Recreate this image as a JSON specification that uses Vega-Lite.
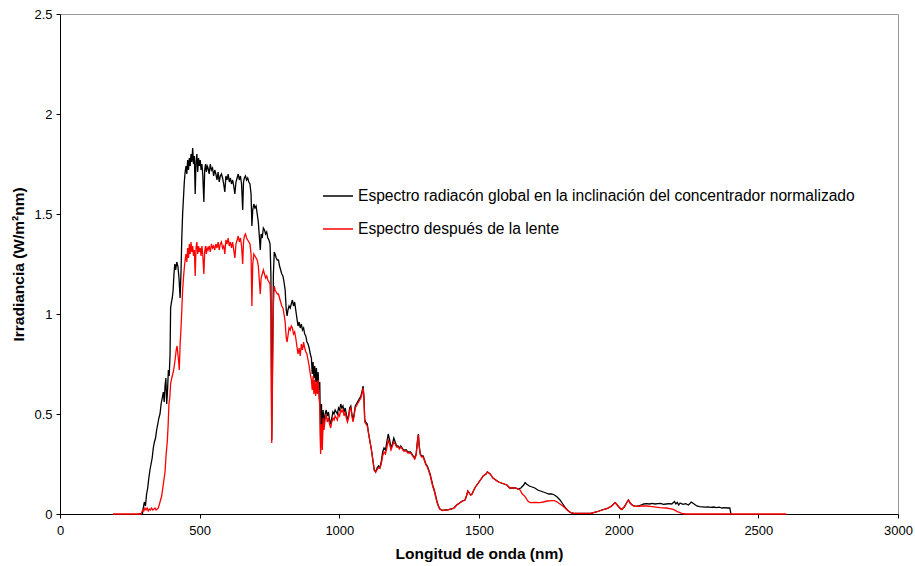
{
  "$schema": "https://vega.github.io/schema/vega-lite/v6.json",
  "width": 838,
  "height": 500,
  "autosize": {"type": "none"},
  "padding": {"left": 60, "top": 14, "right": 17, "bottom": 52},
  "background": "white",
  "datasets": {
    "black": [
      {"x":280,"y":0},{"x":295,"y":0},{"x":298,"y":0.03},{"x":302,"y":0.06},{"x":306,"y":0.04},{"x":310,"y":0.10},{"x":314,"y":0.13},{"x":318,"y":0.18},{"x":322,"y":0.22},{"x":326,"y":0.25},{"x":330,"y":0.28},{"x":334,"y":0.33},{"x":338,"y":0.36},{"x":342,"y":0.38},{"x":346,"y":0.42},{"x":350,"y":0.45},{"x":354,"y":0.48},{"x":358,"y":0.50},{"x":362,"y":0.55},{"x":366,"y":0.58},{"x":370,"y":0.61},{"x":373,"y":0.56},{"x":376,"y":0.64},{"x":379,"y":0.68},{"x":382,"y":0.55},{"x":385,"y":0.62},{"x":388,"y":0.72},{"x":391,"y":0.69},{"x":394,"y":0.80},{"x":396,"y":1.03},{"x":399,"y":1.06},{"x":402,"y":1.08},{"x":405,"y":1.12},{"x":408,"y":1.20},{"x":411,"y":1.25},{"x":414,"y":1.22},{"x":418,"y":1.26},{"x":422,"y":1.24},{"x":426,"y":1.18},{"x":430,"y":1.08},{"x":433,"y":1.20},{"x":436,"y":1.38},{"x":439,"y":1.50},{"x":442,"y":1.58},{"x":445,"y":1.66},{"x":448,"y":1.71},{"x":451,"y":1.74},{"x":454,"y":1.70},{"x":457,"y":1.77},{"x":460,"y":1.72},{"x":463,"y":1.78},{"x":466,"y":1.74},{"x":469,"y":1.80},{"x":472,"y":1.76},{"x":475,"y":1.83},{"x":478,"y":1.75},{"x":481,"y":1.79},{"x":484,"y":1.60},{"x":487,"y":1.76},{"x":490,"y":1.80},{"x":493,"y":1.71},{"x":496,"y":1.78},{"x":499,"y":1.74},{"x":502,"y":1.77},{"x":505,"y":1.72},{"x":508,"y":1.75},{"x":511,"y":1.70},{"x":515,"y":1.56},{"x":518,"y":1.72},{"x":521,"y":1.75},{"x":524,"y":1.71},{"x":527,"y":1.74},{"x":530,"y":1.73},{"x":534,"y":1.70},{"x":538,"y":1.75},{"x":542,"y":1.72},{"x":546,"y":1.73},{"x":550,"y":1.69},{"x":554,"y":1.72},{"x":558,"y":1.70},{"x":562,"y":1.67},{"x":566,"y":1.71},{"x":570,"y":1.66},{"x":574,"y":1.69},{"x":578,"y":1.70},{"x":582,"y":1.68},{"x":586,"y":1.65},{"x":590,"y":1.61},{"x":594,"y":1.69},{"x":598,"y":1.67},{"x":602,"y":1.70},{"x":606,"y":1.66},{"x":610,"y":1.68},{"x":614,"y":1.65},{"x":618,"y":1.67},{"x":622,"y":1.64},{"x":626,"y":1.60},{"x":630,"y":1.66},{"x":634,"y":1.68},{"x":638,"y":1.70},{"x":642,"y":1.67},{"x":646,"y":1.69},{"x":650,"y":1.65},{"x":654,"y":1.52},{"x":657,"y":1.66},{"x":660,"y":1.68},{"x":664,"y":1.69},{"x":668,"y":1.67},{"x":672,"y":1.68},{"x":676,"y":1.66},{"x":680,"y":1.65},{"x":684,"y":1.60},{"x":687,"y":1.44},{"x":690,"y":1.52},{"x":694,"y":1.55},{"x":698,"y":1.53},{"x":702,"y":1.54},{"x":706,"y":1.50},{"x":710,"y":1.46},{"x":714,"y":1.38},{"x":717,"y":1.32},{"x":720,"y":1.40},{"x":724,"y":1.38},{"x":728,"y":1.43},{"x":732,"y":1.42},{"x":736,"y":1.40},{"x":740,"y":1.41},{"x":744,"y":1.38},{"x":748,"y":1.37},{"x":752,"y":1.35},{"x":755,"y":1.20},{"x":758,"y":0.37},{"x":761,"y":0.80},{"x":764,"y":1.20},{"x":767,"y":1.31},{"x":770,"y":1.30},{"x":774,"y":1.28},{"x":778,"y":1.27},{"x":782,"y":1.27},{"x":786,"y":1.24},{"x":790,"y":1.22},{"x":794,"y":1.20},{"x":798,"y":1.19},{"x":802,"y":1.16},{"x":806,"y":1.12},{"x":810,"y":1.02},{"x":813,"y":0.99},{"x":816,"y":1.02},{"x":820,"y":1.04},{"x":824,"y":1.03},{"x":828,"y":1.05},{"x":832,"y":1.07},{"x":836,"y":1.04},{"x":840,"y":1.06},{"x":844,"y":1.02},{"x":848,"y":0.98},{"x":852,"y":0.94},{"x":856,"y":0.96},{"x":860,"y":0.93},{"x":864,"y":0.95},{"x":868,"y":0.92},{"x":872,"y":0.93},{"x":876,"y":0.90},{"x":880,"y":0.89},{"x":884,"y":0.86},{"x":888,"y":0.85},{"x":892,"y":0.83},{"x":896,"y":0.80},{"x":900,"y":0.78},{"x":903,"y":0.70},{"x":906,"y":0.76},{"x":909,"y":0.68},{"x":912,"y":0.74},{"x":915,"y":0.66},{"x":918,"y":0.73},{"x":921,"y":0.64},{"x":924,"y":0.71},{"x":927,"y":0.62},{"x":930,"y":0.66},{"x":933,"y":0.34},{"x":936,"y":0.55},{"x":939,"y":0.38},{"x":942,"y":0.52},{"x":945,"y":0.45},{"x":949,"y":0.50},{"x":953,"y":0.52},{"x":957,"y":0.49},{"x":961,"y":0.51},{"x":965,"y":0.47},{"x":969,"y":0.45},{"x":973,"y":0.48},{"x":977,"y":0.51},{"x":981,"y":0.50},{"x":985,"y":0.52},{"x":989,"y":0.51},{"x":993,"y":0.50},{"x":997,"y":0.53},{"x":1001,"y":0.52},{"x":1005,"y":0.55},{"x":1009,"y":0.53},{"x":1013,"y":0.54},{"x":1017,"y":0.51},{"x":1021,"y":0.53},{"x":1025,"y":0.50},{"x":1029,"y":0.47},{"x":1033,"y":0.49},{"x":1037,"y":0.53},{"x":1041,"y":0.54},{"x":1045,"y":0.50},{"x":1049,"y":0.47},{"x":1053,"y":0.50},{"x":1057,"y":0.54},{"x":1061,"y":0.55},{"x":1065,"y":0.56},{"x":1069,"y":0.57},{"x":1073,"y":0.58},{"x":1077,"y":0.59},{"x":1081,"y":0.61},{"x":1085,"y":0.64},{"x":1088,"y":0.59},{"x":1091,"y":0.47},{"x":1095,"y":0.46},{"x":1100,"y":0.45},{"x":1105,"y":0.40},{"x":1110,"y":0.36},{"x":1115,"y":0.32},{"x":1120,"y":0.27},{"x":1125,"y":0.22},{"x":1130,"y":0.21},{"x":1135,"y":0.23},{"x":1140,"y":0.24},{"x":1145,"y":0.23},{"x":1150,"y":0.26},{"x":1155,"y":0.31},{"x":1160,"y":0.33},{"x":1165,"y":0.32},{"x":1170,"y":0.36},{"x":1175,"y":0.40},{"x":1180,"y":0.37},{"x":1185,"y":0.33},{"x":1190,"y":0.35},{"x":1195,"y":0.38},{"x":1200,"y":0.36},{"x":1205,"y":0.34},{"x":1210,"y":0.34},{"x":1215,"y":0.33},{"x":1220,"y":0.34},{"x":1225,"y":0.33},{"x":1230,"y":0.32},{"x":1235,"y":0.32},{"x":1240,"y":0.32},{"x":1245,"y":0.31},{"x":1250,"y":0.31},{"x":1255,"y":0.31},{"x":1260,"y":0.30},{"x":1265,"y":0.29},{"x":1270,"y":0.28},{"x":1275,"y":0.30},{"x":1280,"y":0.37},{"x":1283,"y":0.40},{"x":1286,"y":0.34},{"x":1290,"y":0.30},{"x":1295,"y":0.29},{"x":1300,"y":0.29},{"x":1305,"y":0.27},{"x":1310,"y":0.25},{"x":1315,"y":0.24},{"x":1320,"y":0.22},{"x":1325,"y":0.20},{"x":1330,"y":0.17},{"x":1335,"y":0.14},{"x":1340,"y":0.12},{"x":1345,"y":0.09},{"x":1350,"y":0.06},{"x":1355,"y":0.04},{"x":1360,"y":0.025},{"x":1370,"y":0.018},{"x":1380,"y":0.02},{"x":1390,"y":0.022},{"x":1400,"y":0.025},{"x":1410,"y":0.03},{"x":1420,"y":0.045},{"x":1430,"y":0.055},{"x":1440,"y":0.065},{"x":1450,"y":0.07},{"x":1455,"y":0.09},{"x":1460,"y":0.115},{"x":1465,"y":0.105},{"x":1470,"y":0.095},{"x":1475,"y":0.10},{"x":1480,"y":0.115},{"x":1485,"y":0.13},{"x":1490,"y":0.14},{"x":1495,"y":0.15},{"x":1500,"y":0.16},{"x":1505,"y":0.17},{"x":1510,"y":0.18},{"x":1515,"y":0.19},{"x":1520,"y":0.195},{"x":1525,"y":0.20},{"x":1530,"y":0.21},{"x":1535,"y":0.205},{"x":1540,"y":0.20},{"x":1545,"y":0.19},{"x":1550,"y":0.18},{"x":1555,"y":0.175},{"x":1560,"y":0.17},{"x":1565,"y":0.165},{"x":1570,"y":0.16},{"x":1580,"y":0.155},{"x":1590,"y":0.15},{"x":1600,"y":0.145},{"x":1610,"y":0.13},{"x":1620,"y":0.13},{"x":1630,"y":0.13},{"x":1640,"y":0.125},{"x":1650,"y":0.13},{"x":1660,"y":0.145},{"x":1665,"y":0.157},{"x":1670,"y":0.15},{"x":1680,"y":0.14},{"x":1690,"y":0.135},{"x":1700,"y":0.13},{"x":1710,"y":0.12},{"x":1720,"y":0.115},{"x":1730,"y":0.11},{"x":1740,"y":0.105},{"x":1750,"y":0.10},{"x":1760,"y":0.10},{"x":1770,"y":0.095},{"x":1780,"y":0.085},{"x":1790,"y":0.07},{"x":1800,"y":0.05},{"x":1810,"y":0.03},{"x":1820,"y":0.015},{"x":1830,"y":0.005},{"x":1840,"y":0.003},{"x":1900,"y":0.003},{"x":1920,"y":0.01},{"x":1940,"y":0.02},{"x":1960,"y":0.028},{"x":1975,"y":0.04},{"x":1987,"y":0.057},{"x":1995,"y":0.045},{"x":2005,"y":0.028},{"x":2011,"y":0.023},{"x":2020,"y":0.035},{"x":2028,"y":0.055},{"x":2035,"y":0.07},{"x":2041,"y":0.055},{"x":2050,"y":0.043},{"x":2060,"y":0.038},{"x":2070,"y":0.04},{"x":2080,"y":0.045},{"x":2090,"y":0.05},{"x":2100,"y":0.052},{"x":2110,"y":0.05},{"x":2120,"y":0.053},{"x":2130,"y":0.05},{"x":2140,"y":0.052},{"x":2150,"y":0.053},{"x":2160,"y":0.048},{"x":2170,"y":0.05},{"x":2180,"y":0.052},{"x":2190,"y":0.05},{"x":2200,"y":0.062},{"x":2205,"y":0.05},{"x":2210,"y":0.058},{"x":2215,"y":0.045},{"x":2220,"y":0.055},{"x":2230,"y":0.048},{"x":2240,"y":0.052},{"x":2250,"y":0.045},{"x":2260,"y":0.06},{"x":2270,"y":0.05},{"x":2280,"y":0.04},{"x":2290,"y":0.037},{"x":2300,"y":0.036},{"x":2310,"y":0.034},{"x":2320,"y":0.036},{"x":2330,"y":0.033},{"x":2340,"y":0.035},{"x":2350,"y":0.032},{"x":2360,"y":0.034},{"x":2370,"y":0.03},{"x":2380,"y":0.032},{"x":2390,"y":0.03},{"x":2398,"y":0.03},{"x":2402,"y":0}
    ],
    "red": [
      {"x":190,"y":0},{"x":290,"y":0},{"x":293,"y":0.01},{"x":297,"y":0.02},{"x":300,"y":0.015},{"x":304,"y":0.03},{"x":308,"y":0.02},{"x":312,"y":0.03},{"x":316,"y":0.015},{"x":320,"y":0.025},{"x":324,"y":0.02},{"x":328,"y":0.03},{"x":332,"y":0.02},{"x":336,"y":0.025},{"x":340,"y":0.03},{"x":344,"y":0.02},{"x":348,"y":0.025},{"x":352,"y":0.03},{"x":356,"y":0.05},{"x":360,"y":0.07},{"x":364,"y":0.09},{"x":368,"y":0.13},{"x":372,"y":0.17},{"x":376,"y":0.21},{"x":380,"y":0.30},{"x":384,"y":0.36},{"x":387,"y":0.44},{"x":390,"y":0.55},{"x":393,"y":0.58},{"x":396,"y":0.65},{"x":400,"y":0.68},{"x":404,"y":0.70},{"x":408,"y":0.73},{"x":412,"y":0.77},{"x":416,"y":0.82},{"x":419,"y":0.84},{"x":422,"y":0.80},{"x":425,"y":0.76},{"x":427,"y":0.72},{"x":430,"y":0.85},{"x":433,"y":0.92},{"x":436,"y":1.02},{"x":439,"y":1.12},{"x":442,"y":1.18},{"x":445,"y":1.23},{"x":448,"y":1.27},{"x":451,"y":1.30},{"x":454,"y":1.26},{"x":457,"y":1.33},{"x":460,"y":1.28},{"x":463,"y":1.35},{"x":466,"y":1.30},{"x":469,"y":1.36},{"x":472,"y":1.31},{"x":475,"y":1.34},{"x":478,"y":1.29},{"x":481,"y":1.32},{"x":484,"y":1.19},{"x":487,"y":1.33},{"x":490,"y":1.36},{"x":493,"y":1.30},{"x":496,"y":1.34},{"x":499,"y":1.31},{"x":502,"y":1.33},{"x":505,"y":1.29},{"x":508,"y":1.34},{"x":511,"y":1.30},{"x":515,"y":1.20},{"x":518,"y":1.31},{"x":521,"y":1.34},{"x":524,"y":1.30},{"x":527,"y":1.33},{"x":530,"y":1.32},{"x":534,"y":1.34},{"x":538,"y":1.31},{"x":542,"y":1.35},{"x":546,"y":1.33},{"x":550,"y":1.34},{"x":554,"y":1.32},{"x":558,"y":1.35},{"x":562,"y":1.33},{"x":566,"y":1.36},{"x":570,"y":1.32},{"x":574,"y":1.35},{"x":578,"y":1.36},{"x":582,"y":1.33},{"x":586,"y":1.34},{"x":590,"y":1.30},{"x":594,"y":1.37},{"x":598,"y":1.35},{"x":602,"y":1.38},{"x":606,"y":1.34},{"x":610,"y":1.36},{"x":614,"y":1.33},{"x":618,"y":1.36},{"x":622,"y":1.32},{"x":626,"y":1.28},{"x":630,"y":1.35},{"x":634,"y":1.37},{"x":638,"y":1.39},{"x":642,"y":1.36},{"x":646,"y":1.38},{"x":650,"y":1.34},{"x":654,"y":1.25},{"x":657,"y":1.36},{"x":660,"y":1.39},{"x":664,"y":1.40},{"x":668,"y":1.38},{"x":672,"y":1.37},{"x":676,"y":1.36},{"x":680,"y":1.35},{"x":684,"y":1.30},{"x":687,"y":1.04},{"x":690,"y":1.25},{"x":694,"y":1.30},{"x":698,"y":1.29},{"x":702,"y":1.28},{"x":706,"y":1.27},{"x":710,"y":1.24},{"x":714,"y":1.16},{"x":717,"y":1.10},{"x":720,"y":1.18},{"x":724,"y":1.20},{"x":728,"y":1.22},{"x":732,"y":1.20},{"x":736,"y":1.18},{"x":740,"y":1.19},{"x":744,"y":1.17},{"x":748,"y":1.16},{"x":752,"y":1.15},{"x":755,"y":1.02},{"x":758,"y":0.355},{"x":761,"y":0.70},{"x":764,"y":1.05},{"x":767,"y":1.14},{"x":770,"y":1.12},{"x":774,"y":1.11},{"x":778,"y":1.10},{"x":782,"y":1.10},{"x":786,"y":1.08},{"x":790,"y":1.06},{"x":794,"y":1.04},{"x":798,"y":1.03},{"x":802,"y":1.00},{"x":806,"y":0.96},{"x":810,"y":0.88},{"x":813,"y":0.86},{"x":816,"y":0.89},{"x":820,"y":0.93},{"x":824,"y":0.92},{"x":828,"y":0.94},{"x":832,"y":0.93},{"x":836,"y":0.90},{"x":840,"y":0.91},{"x":844,"y":0.88},{"x":848,"y":0.84},{"x":852,"y":0.80},{"x":856,"y":0.83},{"x":860,"y":0.79},{"x":864,"y":0.85},{"x":868,"y":0.82},{"x":872,"y":0.86},{"x":876,"y":0.83},{"x":880,"y":0.81},{"x":884,"y":0.80},{"x":888,"y":0.77},{"x":892,"y":0.74},{"x":896,"y":0.70},{"x":900,"y":0.67},{"x":903,"y":0.62},{"x":906,"y":0.69},{"x":909,"y":0.60},{"x":912,"y":0.67},{"x":915,"y":0.59},{"x":918,"y":0.66},{"x":921,"y":0.60},{"x":924,"y":0.67},{"x":927,"y":0.58},{"x":930,"y":0.55},{"x":933,"y":0.30},{"x":936,"y":0.45},{"x":939,"y":0.32},{"x":942,"y":0.48},{"x":945,"y":0.42},{"x":949,"y":0.47},{"x":953,"y":0.50},{"x":957,"y":0.46},{"x":961,"y":0.48},{"x":965,"y":0.45},{"x":969,"y":0.43},{"x":973,"y":0.46},{"x":977,"y":0.48},{"x":981,"y":0.47},{"x":985,"y":0.49},{"x":989,"y":0.48},{"x":993,"y":0.47},{"x":997,"y":0.50},{"x":1001,"y":0.49},{"x":1005,"y":0.52},{"x":1009,"y":0.51},{"x":1013,"y":0.52},{"x":1017,"y":0.49},{"x":1021,"y":0.51},{"x":1025,"y":0.48},{"x":1029,"y":0.46},{"x":1033,"y":0.48},{"x":1037,"y":0.52},{"x":1041,"y":0.53},{"x":1045,"y":0.49},{"x":1049,"y":0.46},{"x":1053,"y":0.49},{"x":1057,"y":0.53},{"x":1061,"y":0.54},{"x":1065,"y":0.55},{"x":1069,"y":0.56},{"x":1073,"y":0.57},{"x":1077,"y":0.58},{"x":1081,"y":0.60},{"x":1085,"y":0.63},{"x":1088,"y":0.58},{"x":1091,"y":0.46},{"x":1095,"y":0.45},{"x":1100,"y":0.44},{"x":1105,"y":0.40},{"x":1110,"y":0.36},{"x":1115,"y":0.32},{"x":1120,"y":0.27},{"x":1125,"y":0.22},{"x":1130,"y":0.21},{"x":1135,"y":0.22},{"x":1140,"y":0.23},{"x":1145,"y":0.23},{"x":1150,"y":0.25},{"x":1155,"y":0.29},{"x":1160,"y":0.31},{"x":1165,"y":0.30},{"x":1170,"y":0.33},{"x":1175,"y":0.37},{"x":1180,"y":0.35},{"x":1185,"y":0.32},{"x":1190,"y":0.34},{"x":1195,"y":0.36},{"x":1200,"y":0.35},{"x":1205,"y":0.335},{"x":1210,"y":0.335},{"x":1215,"y":0.325},{"x":1220,"y":0.335},{"x":1225,"y":0.325},{"x":1230,"y":0.315},{"x":1235,"y":0.315},{"x":1240,"y":0.315},{"x":1245,"y":0.305},{"x":1250,"y":0.305},{"x":1255,"y":0.305},{"x":1260,"y":0.295},{"x":1265,"y":0.285},{"x":1270,"y":0.275},{"x":1275,"y":0.295},{"x":1280,"y":0.365},{"x":1283,"y":0.395},{"x":1286,"y":0.335},{"x":1290,"y":0.295},{"x":1295,"y":0.285},{"x":1300,"y":0.285},{"x":1305,"y":0.265},{"x":1310,"y":0.245},{"x":1315,"y":0.235},{"x":1320,"y":0.215},{"x":1325,"y":0.195},{"x":1330,"y":0.165},{"x":1335,"y":0.135},{"x":1340,"y":0.115},{"x":1345,"y":0.085},{"x":1350,"y":0.058},{"x":1355,"y":0.038},{"x":1360,"y":0.024},{"x":1370,"y":0.017},{"x":1380,"y":0.019},{"x":1390,"y":0.021},{"x":1400,"y":0.024},{"x":1410,"y":0.029},{"x":1420,"y":0.044},{"x":1430,"y":0.054},{"x":1440,"y":0.064},{"x":1450,"y":0.07},{"x":1455,"y":0.09},{"x":1460,"y":0.115},{"x":1465,"y":0.105},{"x":1470,"y":0.095},{"x":1475,"y":0.10},{"x":1480,"y":0.115},{"x":1485,"y":0.13},{"x":1490,"y":0.14},{"x":1495,"y":0.15},{"x":1500,"y":0.16},{"x":1505,"y":0.17},{"x":1510,"y":0.18},{"x":1515,"y":0.19},{"x":1520,"y":0.195},{"x":1525,"y":0.20},{"x":1530,"y":0.21},{"x":1535,"y":0.205},{"x":1540,"y":0.20},{"x":1545,"y":0.19},{"x":1550,"y":0.18},{"x":1555,"y":0.175},{"x":1560,"y":0.17},{"x":1565,"y":0.165},{"x":1570,"y":0.16},{"x":1580,"y":0.155},{"x":1590,"y":0.15},{"x":1600,"y":0.145},{"x":1610,"y":0.13},{"x":1620,"y":0.13},{"x":1630,"y":0.13},{"x":1640,"y":0.125},{"x":1647,"y":0.12},{"x":1655,"y":0.10},{"x":1665,"y":0.087},{"x":1675,"y":0.065},{"x":1683,"y":0.057},{"x":1700,"y":0.058},{"x":1718,"y":0.057},{"x":1730,"y":0.06},{"x":1745,"y":0.065},{"x":1760,"y":0.067},{"x":1770,"y":0.067},{"x":1780,"y":0.06},{"x":1790,"y":0.05},{"x":1800,"y":0.04},{"x":1810,"y":0.028},{"x":1820,"y":0.015},{"x":1830,"y":0.005},{"x":1840,"y":0.003},{"x":1900,"y":0.003},{"x":1920,"y":0.01},{"x":1940,"y":0.02},{"x":1960,"y":0.028},{"x":1975,"y":0.04},{"x":1987,"y":0.057},{"x":1995,"y":0.045},{"x":2005,"y":0.028},{"x":2011,"y":0.023},{"x":2020,"y":0.035},{"x":2028,"y":0.055},{"x":2035,"y":0.07},{"x":2041,"y":0.055},{"x":2050,"y":0.043},{"x":2060,"y":0.038},{"x":2070,"y":0.038},{"x":2080,"y":0.04},{"x":2090,"y":0.04},{"x":2100,"y":0.04},{"x":2120,"y":0.037},{"x":2148,"y":0.032},{"x":2170,"y":0.03},{"x":2196,"y":0.023},{"x":2210,"y":0.012},{"x":2226,"y":0.003},{"x":2240,"y":0},{"x":2600,"y":0}
    ]
  },
  "layer": [
    {
      "data": {"name": "black"},
      "mark": {"type": "line", "strokeWidth": 1.3, "interpolate": "linear"},
      "encoding": {
        "x": {"field": "x", "type": "quantitative"},
        "y": {"field": "y", "type": "quantitative"},
        "color": {"datum": "Espectro radiacón global en la inclinación del concentrador normalizado", "type": "nominal"}
      }
    },
    {
      "data": {"name": "red"},
      "mark": {"type": "line", "strokeWidth": 1.3, "interpolate": "linear"},
      "encoding": {
        "x": {"field": "x", "type": "quantitative"},
        "y": {"field": "y", "type": "quantitative"},
        "color": {"datum": "Espectro después de la lente", "type": "nominal"}
      }
    }
  ],
  "resolve": {"scale": {"x": "shared", "y": "shared", "color": "shared"}},
  "encoding": {
    "x": {
      "field": "x", "type": "quantitative",
      "scale": {"domain": [0, 3000], "nice": false, "zero": false},
      "axis": {
        "title": "Longitud de onda (nm)",
        "values": [0, 500, 1000, 1500, 2000, 2500, 3000],
        "labelExpr": "toString(datum.value)",
        "labelFlush": false,
        "titleX": 419, "titleY": 39, "titleBaseline": "middle", "titleAlign": "center"
      }
    },
    "y": {
      "field": "y", "type": "quantitative",
      "scale": {"domain": [0, 2.5], "nice": false, "zero": false},
      "axis": {
        "title": "Irradiancia (W/m²nm)",
        "values": [0, 0.5, 1, 1.5, 2, 2.5],
        "labelExpr": "toString(datum.value)",
        "labelFlush": false,
        "titleX": -42, "titleY": 250, "titleAngle": -90, "titleBaseline": "middle", "titleAlign": "center"
      }
    },
    "color": {
      "type": "nominal",
      "scale": {
        "domain": ["Espectro radiacón global en la inclinación del concentrador normalizado", "Espectro después de la lente"],
        "range": ["#000000", "#ff0000"]
      },
      "legend": {
        "title": null,
        "orient": "none",
        "legendX": 262,
        "legendY": 166,
        "symbolType": "stroke",
        "symbolSize": 900,
        "symbolStrokeWidth": 1.5,
        "labelFontSize": 15.6,
        "labelFont": "Liberation Sans",
        "labelColor": "#000000",
        "labelOffset": 4,
        "rowPadding": 8,
        "padding": 0,
        "labelLimit": 0
      }
    }
  },
  "config": {
    "view": {"stroke": "#999999", "strokeWidth": 1},
    "axis": {
      "grid": false,
      "domainColor": "#000000",
      "domainWidth": 1,
      "tickColor": "#000000",
      "tickSize": 4,
      "labelColor": "#000000",
      "labelFont": "Liberation Sans",
      "labelFontSize": 13,
      "labelPadding": 4,
      "titleFont": "Liberation Sans",
      "titleFontSize": 15.5,
      "titleFontWeight": "bold",
      "titleColor": "#000000"
    },
    "axisX": {"labelPadding": 6}
  }
}
